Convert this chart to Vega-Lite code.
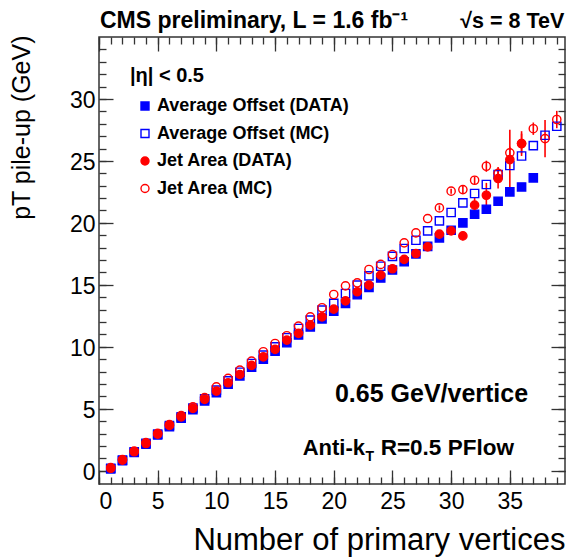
{
  "$schema": "https://vega.github.io/schema/vega-lite/v6.json",
  "width": 466,
  "height": 447,
  "autosize": {"type": "none"},
  "padding": {"left": 99, "top": 37, "right": 2, "bottom": 76},
  "background": "white",
  "config": {
    "view": {"stroke": "#333333", "strokeWidth": 1.5},
    "font": "Liberation Sans",
    "axis": {"grid": false, "domain": false, "tickColor": "#333333", "tickWidth": 1.3, "labelColor": "#000000", "titleColor": "#000000", "labelFont": "Liberation Sans", "titleFont": "Liberation Sans", "titleFontWeight": "normal"},
    "legend": {"orient": "none", "legendX": 37, "legendY": 60, "padding": 0, "labelFont": "Liberation Sans", "labelFontSize": 18, "labelFontWeight": "bold", "labelColor": "#000000", "symbolSize": 64, "symbolStrokeWidth": 1.4, "rowPadding": 9.5, "labelOffset": 3, "labelLimit": 400}
  },
  "resolve": {"axis": {"x": "independent", "y": "independent"}},
  "datasets": {
    "pts": [
      {"x": 1, "series": "Average Offset (DATA)", "v": 0.15},
      {"x": 2, "series": "Average Offset (DATA)", "v": 0.82},
      {"x": 3, "series": "Average Offset (DATA)", "v": 1.48},
      {"x": 4, "series": "Average Offset (DATA)", "v": 2.15},
      {"x": 5, "series": "Average Offset (DATA)", "v": 2.88},
      {"x": 6, "series": "Average Offset (DATA)", "v": 3.56},
      {"x": 7, "series": "Average Offset (DATA)", "v": 4.25},
      {"x": 8, "series": "Average Offset (DATA)", "v": 4.93},
      {"x": 9, "series": "Average Offset (DATA)", "v": 5.63},
      {"x": 10, "series": "Average Offset (DATA)", "v": 6.3},
      {"x": 11, "series": "Average Offset (DATA)", "v": 6.98},
      {"x": 12, "series": "Average Offset (DATA)", "v": 7.65},
      {"x": 13, "series": "Average Offset (DATA)", "v": 8.35},
      {"x": 14, "series": "Average Offset (DATA)", "v": 9.0},
      {"x": 15, "series": "Average Offset (DATA)", "v": 9.65},
      {"x": 16, "series": "Average Offset (DATA)", "v": 10.33},
      {"x": 17, "series": "Average Offset (DATA)", "v": 10.95},
      {"x": 18, "series": "Average Offset (DATA)", "v": 11.6},
      {"x": 19, "series": "Average Offset (DATA)", "v": 12.25},
      {"x": 20, "series": "Average Offset (DATA)", "v": 12.88},
      {"x": 21, "series": "Average Offset (DATA)", "v": 13.5},
      {"x": 22, "series": "Average Offset (DATA)", "v": 14.2},
      {"x": 23, "series": "Average Offset (DATA)", "v": 14.8},
      {"x": 24, "series": "Average Offset (DATA)", "v": 15.55},
      {"x": 25, "series": "Average Offset (DATA)", "v": 16.2},
      {"x": 26, "series": "Average Offset (DATA)", "v": 16.86},
      {"x": 27, "series": "Average Offset (DATA)", "v": 17.5},
      {"x": 28, "series": "Average Offset (DATA)", "v": 18.1},
      {"x": 29, "series": "Average Offset (DATA)", "v": 18.79},
      {"x": 30, "series": "Average Offset (DATA)", "v": 19.41},
      {"x": 31, "series": "Average Offset (DATA)", "v": 20.0},
      {"x": 32, "series": "Average Offset (DATA)", "v": 20.7},
      {"x": 33, "series": "Average Offset (DATA)", "v": 21.1},
      {"x": 34, "series": "Average Offset (DATA)", "v": 21.75},
      {"x": 35, "series": "Average Offset (DATA)", "v": 22.5},
      {"x": 36, "series": "Average Offset (DATA)", "v": 22.9},
      {"x": 37, "series": "Average Offset (DATA)", "v": 23.63},

      {"x": 1, "series": "Average Offset (MC)", "v": 0.2},
      {"x": 2, "series": "Average Offset (MC)", "v": 0.86},
      {"x": 3, "series": "Average Offset (MC)", "v": 1.53},
      {"x": 4, "series": "Average Offset (MC)", "v": 2.22},
      {"x": 5, "series": "Average Offset (MC)", "v": 2.95},
      {"x": 6, "series": "Average Offset (MC)", "v": 3.65},
      {"x": 7, "series": "Average Offset (MC)", "v": 4.35},
      {"x": 8, "series": "Average Offset (MC)", "v": 5.06},
      {"x": 9, "series": "Average Offset (MC)", "v": 5.8},
      {"x": 10, "series": "Average Offset (MC)", "v": 6.5},
      {"x": 11, "series": "Average Offset (MC)", "v": 7.25},
      {"x": 12, "series": "Average Offset (MC)", "v": 7.95},
      {"x": 13, "series": "Average Offset (MC)", "v": 8.65},
      {"x": 14, "series": "Average Offset (MC)", "v": 9.33},
      {"x": 15, "series": "Average Offset (MC)", "v": 10.0},
      {"x": 16, "series": "Average Offset (MC)", "v": 10.73},
      {"x": 17, "series": "Average Offset (MC)", "v": 11.48},
      {"x": 18, "series": "Average Offset (MC)", "v": 12.15},
      {"x": 19, "series": "Average Offset (MC)", "v": 12.96},
      {"x": 20, "series": "Average Offset (MC)", "v": 13.5},
      {"x": 21, "series": "Average Offset (MC)", "v": 14.3},
      {"x": 22, "series": "Average Offset (MC)", "v": 14.98},
      {"x": 23, "series": "Average Offset (MC)", "v": 15.73},
      {"x": 24, "series": "Average Offset (MC)", "v": 16.5},
      {"x": 25, "series": "Average Offset (MC)", "v": 17.3},
      {"x": 26, "series": "Average Offset (MC)", "v": 17.93},
      {"x": 27, "series": "Average Offset (MC)", "v": 18.6},
      {"x": 28, "series": "Average Offset (MC)", "v": 19.35},
      {"x": 29, "series": "Average Offset (MC)", "v": 20.16},
      {"x": 30, "series": "Average Offset (MC)", "v": 20.84},
      {"x": 31, "series": "Average Offset (MC)", "v": 21.61},
      {"x": 32, "series": "Average Offset (MC)", "v": 22.37},
      {"x": 33, "series": "Average Offset (MC)", "v": 23.1},
      {"x": 34, "series": "Average Offset (MC)", "v": 23.9},
      {"x": 35, "series": "Average Offset (MC)", "v": 24.63},
      {"x": 36, "series": "Average Offset (MC)", "v": 25.4},
      {"x": 37, "series": "Average Offset (MC)", "v": 26.24},
      {"x": 38, "series": "Average Offset (MC)", "v": 27.07},
      {"x": 39, "series": "Average Offset (MC)", "v": 27.8},

      {"x": 1, "series": "Jet Area (DATA)", "v": 0.2},
      {"x": 2, "series": "Jet Area (DATA)", "v": 0.86},
      {"x": 3, "series": "Jet Area (DATA)", "v": 1.53},
      {"x": 4, "series": "Jet Area (DATA)", "v": 2.2},
      {"x": 5, "series": "Jet Area (DATA)", "v": 2.96},
      {"x": 6, "series": "Jet Area (DATA)", "v": 3.66},
      {"x": 7, "series": "Jet Area (DATA)", "v": 4.35},
      {"x": 8, "series": "Jet Area (DATA)", "v": 5.03},
      {"x": 9, "series": "Jet Area (DATA)", "v": 5.76},
      {"x": 10, "series": "Jet Area (DATA)", "v": 6.43},
      {"x": 11, "series": "Jet Area (DATA)", "v": 7.1},
      {"x": 12, "series": "Jet Area (DATA)", "v": 7.77},
      {"x": 13, "series": "Jet Area (DATA)", "v": 8.5},
      {"x": 14, "series": "Jet Area (DATA)", "v": 9.19},
      {"x": 15, "series": "Jet Area (DATA)", "v": 9.79},
      {"x": 16, "series": "Jet Area (DATA)", "v": 10.54},
      {"x": 17, "series": "Jet Area (DATA)", "v": 11.08},
      {"x": 18, "series": "Jet Area (DATA)", "v": 11.75},
      {"x": 19, "series": "Jet Area (DATA)", "v": 12.42},
      {"x": 20, "series": "Jet Area (DATA)", "v": 13.04},
      {"x": 21, "series": "Jet Area (DATA)", "v": 13.71},
      {"x": 22, "series": "Jet Area (DATA)", "v": 14.44},
      {"x": 23, "series": "Jet Area (DATA)", "v": 14.98},
      {"x": 24, "series": "Jet Area (DATA)", "v": 15.78},
      {"x": 25, "series": "Jet Area (DATA)", "v": 16.3},
      {"x": 26, "series": "Jet Area (DATA)", "v": 17.05},
      {"x": 27, "series": "Jet Area (DATA)", "v": 17.53},
      {"x": 28, "series": "Jet Area (DATA)", "v": 18.06},
      {"x": 29, "series": "Jet Area (DATA)", "v": 19.09},
      {"x": 30, "series": "Jet Area (DATA)", "v": 19.35, "err": 0.25},
      {"x": 31, "series": "Jet Area (DATA)", "v": 18.95, "err": 0.35},
      {"x": 32, "series": "Jet Area (DATA)", "v": 21.43, "err": 0.6},
      {"x": 33, "series": "Jet Area (DATA)", "v": 22.23, "err": 1.0},
      {"x": 34, "series": "Jet Area (DATA)", "v": 23.58, "err": 0.8},
      {"x": 35, "series": "Jet Area (DATA)", "v": 25.11, "err": 2.4},
      {"x": 36, "series": "Jet Area (DATA)", "v": 26.4, "err": 1.0},

      {"x": 1, "series": "Jet Area (MC)", "v": 0.25},
      {"x": 2, "series": "Jet Area (MC)", "v": 0.9},
      {"x": 3, "series": "Jet Area (MC)", "v": 1.58},
      {"x": 4, "series": "Jet Area (MC)", "v": 2.27},
      {"x": 5, "series": "Jet Area (MC)", "v": 3.02},
      {"x": 6, "series": "Jet Area (MC)", "v": 3.72},
      {"x": 7, "series": "Jet Area (MC)", "v": 4.45},
      {"x": 8, "series": "Jet Area (MC)", "v": 5.15},
      {"x": 9, "series": "Jet Area (MC)", "v": 5.9},
      {"x": 10, "series": "Jet Area (MC)", "v": 6.77},
      {"x": 11, "series": "Jet Area (MC)", "v": 7.45},
      {"x": 12, "series": "Jet Area (MC)", "v": 8.12},
      {"x": 13, "series": "Jet Area (MC)", "v": 8.85},
      {"x": 14, "series": "Jet Area (MC)", "v": 9.6},
      {"x": 15, "series": "Jet Area (MC)", "v": 10.27},
      {"x": 16, "series": "Jet Area (MC)", "v": 10.89},
      {"x": 17, "series": "Jet Area (MC)", "v": 11.67},
      {"x": 18, "series": "Jet Area (MC)", "v": 12.42},
      {"x": 19, "series": "Jet Area (MC)", "v": 13.15},
      {"x": 20, "series": "Jet Area (MC)", "v": 14.22},
      {"x": 21, "series": "Jet Area (MC)", "v": 14.92},
      {"x": 22, "series": "Jet Area (MC)", "v": 15.16},
      {"x": 23, "series": "Jet Area (MC)", "v": 16.24},
      {"x": 24, "series": "Jet Area (MC)", "v": 16.65},
      {"x": 25, "series": "Jet Area (MC)", "v": 17.45},
      {"x": 26, "series": "Jet Area (MC)", "v": 18.39},
      {"x": 27, "series": "Jet Area (MC)", "v": 19.19},
      {"x": 28, "series": "Jet Area (MC)", "v": 20.35},
      {"x": 29, "series": "Jet Area (MC)", "v": 21.21, "err": 0.2},
      {"x": 30, "series": "Jet Area (MC)", "v": 22.56, "err": 0.2},
      {"x": 31, "series": "Jet Area (MC)", "v": 22.69, "err": 0.3},
      {"x": 32, "series": "Jet Area (MC)", "v": 23.44, "err": 0.3},
      {"x": 33, "series": "Jet Area (MC)", "v": 24.57, "err": 0.45},
      {"x": 34, "series": "Jet Area (MC)", "v": 24.0, "err": 0.5},
      {"x": 35, "series": "Jet Area (MC)", "v": 25.65, "err": 0.5},
      {"x": 36, "series": "Jet Area (MC)", "v": 26.4, "err": 0.8},
      {"x": 37, "series": "Jet Area (MC)", "v": 27.6, "err": 0.5},
      {"x": 38, "series": "Jet Area (MC)", "v": 26.8, "err": 1.5},
      {"x": 39, "series": "Jet Area (MC)", "v": 28.34, "err": 0.7}
    ]
  },
  "layer": [
    {
      "data": {"name": "pts"},
      "transform": [{"filter": "isValid(datum.err)"}],
      "mark": {"type": "errorbar", "color": "#ff0000", "thickness": 1.6},
      "encoding": {
        "x": {"field": "x", "type": "quantitative", "scale": {"domain": [0, 39.7], "nice": false, "zero": false},
              "axis": {"orient": "bottom", "values": [0, 5, 10, 15, 20, 25, 30, 35], "labels": false, "tickSize": -14, "title": null}},
        "y": {"field": "v", "type": "quantitative", "scale": {"domain": [-1.07, 35], "nice": false, "zero": false},
              "axis": {"orient": "left", "values": [0, 5, 10, 15, 20, 25, 30], "labels": false, "tickSize": -14, "title": null}},
        "yError": {"field": "err"}
      }
    },
    {
      "data": {"name": "pts"},
      "mark": {"type": "point", "size": 68, "strokeWidth": 1.4, "opacity": 1},
      "encoding": {
        "x": {"field": "x", "type": "quantitative", "scale": {"domain": [0, 39.7], "nice": false, "zero": false},
              "axis": {"orient": "bottom", "values": [0, 5, 10, 15, 20, 25, 30, 35], "ticks": false, "labelFontSize": 23, "labelPadding": 6,
                       "title": "Number of primary vertices", "titleFontSize": 31, "titleAlign": "right", "titleBaseline": "alphabetic", "titleX": 466, "titleY": 65}},
        "y": {"field": "v", "type": "quantitative", "scale": {"domain": [-1.07, 35], "nice": false, "zero": false},
              "axis": {"orient": "left", "values": [0, 5, 10, 15, 20, 25, 30], "ticks": false, "labelFontSize": 23, "labelPadding": 4, "labelOffset": 2,
                       "title": "pT pile-up (GeV)", "titleFontSize": 25, "titleAngle": -90, "titleAlign": "right", "titleBaseline": "middle", "titleX": -78, "titleY": -2}},
        "shape": {"field": "series", "type": "nominal", "scale": {"domain": ["Average Offset (DATA)", "Average Offset (MC)", "Jet Area (DATA)", "Jet Area (MC)"], "range": ["square", "square", "circle", "circle"]}, "legend": {"title": null}},
        "fill": {"field": "series", "type": "nominal", "scale": {"domain": ["Average Offset (DATA)", "Average Offset (MC)", "Jet Area (DATA)", "Jet Area (MC)"], "range": ["#0000ff", "transparent", "#ff0000", "transparent"]}, "legend": {"title": null}},
        "stroke": {"field": "series", "type": "nominal", "scale": {"domain": ["Average Offset (DATA)", "Average Offset (MC)", "Jet Area (DATA)", "Jet Area (MC)"], "range": ["#0000ff", "#0000ff", "#ff0000", "#ff0000"]}, "legend": {"title": null}}
      }
    },
    {
      "data": {"values": [{}]},
      "mark": {"type": "text", "align": "left", "baseline": "alphabetic", "fontSize": 23, "fontWeight": "bold", "font": "Liberation Sans", "color": "#000000"},
      "encoding": {
        "x": {"datum": 0.085, "type": "quantitative", "scale": {"domain": [0, 39.7], "nice": false, "zero": false},
              "axis": {"orient": "bottom", "values": [0, 1, 2, 3, 4, 5, 6, 7, 8, 9, 10, 11, 12, 13, 14, 15, 16, 17, 18, 19, 20, 21, 22, 23, 24, 25, 26, 27, 28, 29, 30, 31, 32, 33, 34, 35, 36, 37, 38, 39], "labels": false, "tickSize": -7, "title": null}},
        "y": {"datum": 35.73, "type": "quantitative", "scale": {"domain": [-1.07, 35], "nice": false, "zero": false},
              "axis": {"orient": "left", "values": [0, 1, 2, 3, 4, 5, 6, 7, 8, 9, 10, 11, 12, 13, 14, 15, 16, 17, 18, 19, 20, 21, 22, 23, 24, 25, 26, 27, 28, 29, 30, 31, 32, 33, 34], "labels": false, "tickSize": -7, "title": null}},
        "text": {"value": "CMS preliminary, L = 1.6 fb⁻¹"}
      }
    },
    {
      "data": {"values": [{}]},
      "mark": {"type": "text", "align": "right", "baseline": "alphabetic", "fontSize": 21.5, "fontWeight": "bold", "font": "Liberation Sans", "color": "#000000"},
      "encoding": {
        "x": {"datum": 39.64, "type": "quantitative", "scale": {"domain": [0, 39.7], "nice": false, "zero": false},
              "axis": {"orient": "top", "values": [0, 5, 10, 15, 20, 25, 30, 35], "labels": false, "tickSize": -14, "title": null}},
        "y": {"datum": 35.73, "type": "quantitative", "scale": {"domain": [-1.07, 35], "nice": false, "zero": false},
              "axis": {"orient": "right", "values": [0, 5, 10, 15, 20, 25, 30], "labels": false, "tickSize": -14, "title": null}},
        "text": {"value": "√s = 8 TeV"}
      }
    },
    {
      "data": {"values": [{}]},
      "mark": {"type": "text", "align": "left", "baseline": "alphabetic", "fontSize": 20, "fontWeight": "bold", "font": "Liberation Sans", "color": "#000000"},
      "encoding": {
        "x": {"datum": 2.64, "type": "quantitative", "scale": {"domain": [0, 39.7], "nice": false, "zero": false},
              "axis": {"orient": "top", "values": [0, 1, 2, 3, 4, 5, 6, 7, 8, 9, 10, 11, 12, 13, 14, 15, 16, 17, 18, 19, 20, 21, 22, 23, 24, 25, 26, 27, 28, 29, 30, 31, 32, 33, 34, 35, 36, 37, 38, 39], "labels": false, "tickSize": -7, "title": null}},
        "y": {"datum": 31.37, "type": "quantitative", "scale": {"domain": [-1.07, 35], "nice": false, "zero": false},
              "axis": {"orient": "right", "values": [0, 1, 2, 3, 4, 5, 6, 7, 8, 9, 10, 11, 12, 13, 14, 15, 16, 17, 18, 19, 20, 21, 22, 23, 24, 25, 26, 27, 28, 29, 30, 31, 32, 33, 34], "labels": false, "tickSize": -7, "title": null}},
        "text": {"value": "|η| < 0.5"}
      }
    },
    {
      "data": {"values": [{}]},
      "mark": {"type": "text", "align": "left", "baseline": "alphabetic", "fontSize": 25, "fontWeight": "bold", "font": "Liberation Sans", "color": "#000000"},
      "encoding": {
        "x": {"datum": 20.1, "type": "quantitative", "scale": {"domain": [0, 39.7], "nice": false, "zero": false}, "axis": null},
        "y": {"datum": 5.54, "type": "quantitative", "scale": {"domain": [-1.07, 35], "nice": false, "zero": false}, "axis": null},
        "text": {"value": "0.65 GeV/vertice"}
      }
    },
    {
      "data": {"values": [{}]},
      "mark": {"type": "text", "align": "right", "baseline": "alphabetic", "fontSize": 22, "fontWeight": "bold", "font": "Liberation Sans", "color": "#000000"},
      "encoding": {
        "x": {"datum": 22.66, "type": "quantitative", "scale": {"domain": [0, 39.7], "nice": false, "zero": false}, "axis": null},
        "y": {"datum": 1.27, "type": "quantitative", "scale": {"domain": [-1.07, 35], "nice": false, "zero": false}, "axis": null},
        "text": {"value": "Anti-k"}
      }
    },
    {
      "data": {"values": [{}]},
      "mark": {"type": "text", "align": "left", "baseline": "alphabetic", "fontSize": 14, "fontWeight": "bold", "font": "Liberation Sans", "color": "#000000"},
      "encoding": {
        "x": {"datum": 22.7, "type": "quantitative", "scale": {"domain": [0, 39.7], "nice": false, "zero": false}, "axis": null},
        "y": {"datum": 0.8, "type": "quantitative", "scale": {"domain": [-1.07, 35], "nice": false, "zero": false}, "axis": null},
        "text": {"value": "T"}
      }
    },
    {
      "data": {"values": [{}]},
      "mark": {"type": "text", "align": "left", "baseline": "alphabetic", "fontSize": 22.5, "fontWeight": "bold", "font": "Liberation Sans", "color": "#000000"},
      "encoding": {
        "x": {"datum": 24.0, "type": "quantitative", "scale": {"domain": [0, 39.7], "nice": false, "zero": false}, "axis": null},
        "y": {"datum": 1.27, "type": "quantitative", "scale": {"domain": [-1.07, 35], "nice": false, "zero": false}, "axis": null},
        "text": {"value": "R=0.5 PFlow"}
      }
    }
  ]
}
